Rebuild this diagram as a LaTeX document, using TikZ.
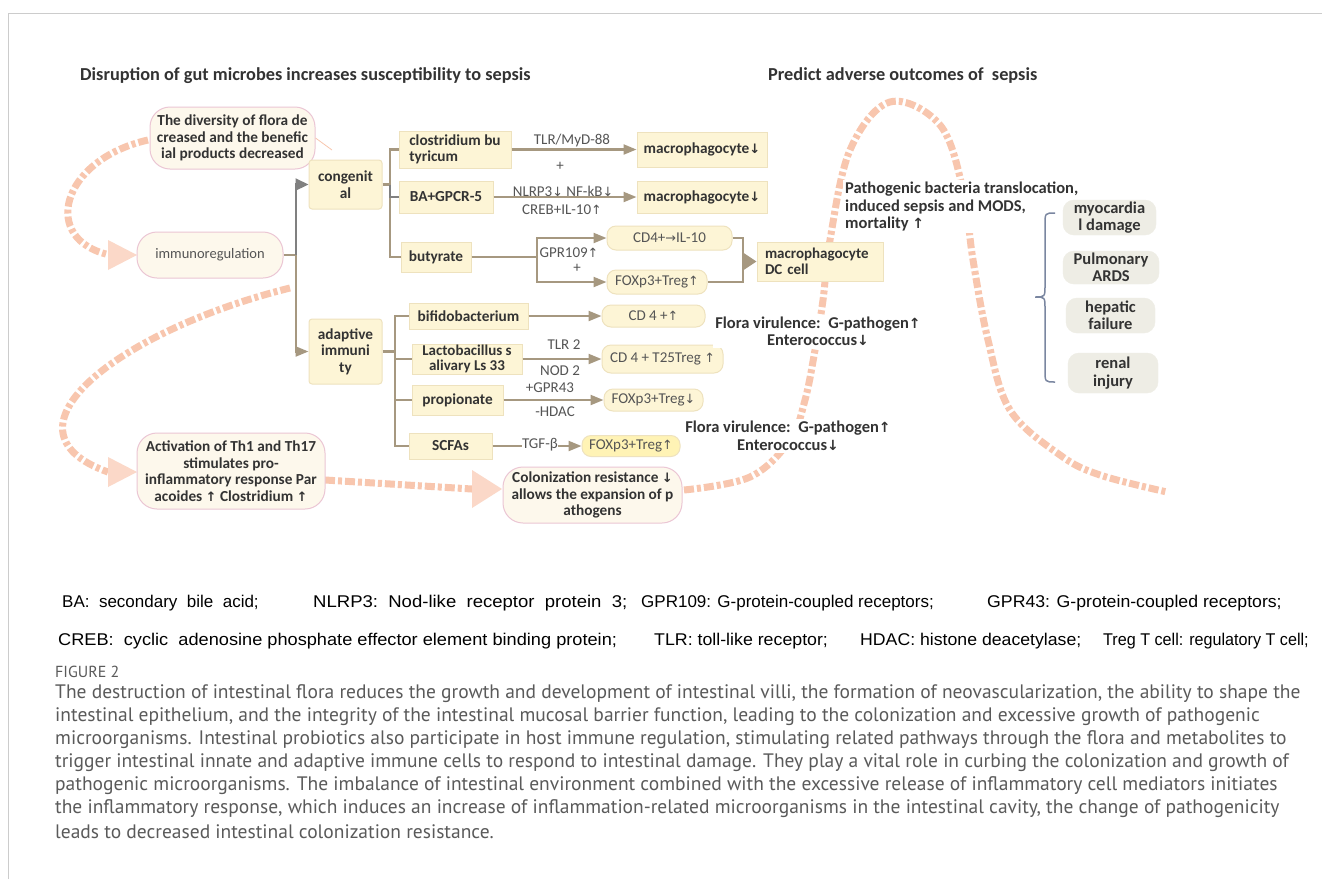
\documentclass[tikz,border=0pt]{standalone}
\usepackage{fontspec}
\usepackage{graphicx}
\setmainfont{Carlito}
\newfontfamily\symf[Scale=0.85]{DejaVu Sans}
\newfontfamily\legf{Liberation Sans}
\newfontfamily\capf{PT Sans}
\usetikzlibrary{arrows.meta,calc}
\newcommand{\arrU}{{\symf\char"2191}}
\newcommand{\arrD}{{\symf\char"2193}}
\newcommand{\arrR}{{\symf\char"2192}}
\definecolor{cream}{HTML}{FDF5D6}
\definecolor{creamedge}{HTML}{EEE2BE}
\definecolor{pale}{HTML}{FDF8EC}
\definecolor{pinkedge}{HTML}{EBC6D4}
\definecolor{tanc}{HTML}{A69880}
\definecolor{darkg}{HTML}{808080}
\definecolor{txt}{HTML}{333333}
\definecolor{lab}{HTML}{555555}
\definecolor{capc}{HTML}{5A5A5A}
\definecolor{salmon}{HTML}{F8C6AE}
\definecolor{salmonlt}{HTML}{FBD8C8}
\definecolor{graybox}{HTML}{EEEDE5}
\definecolor{yel}{HTML}{FFF3B5}
\definecolor{bracec}{HTML}{7A86A0}
\definecolor{framec}{HTML}{CCCCCC}
\begin{document}
\begin{tikzpicture}[x=1pt,y=-1pt,
  box/.style={draw=creamedge, fill=cream, line width=1pt, inner sep=0pt, text=txt,
    font=\bfseries\fontsize{15.3}{16.5}\selectfont, align=center},
  sbox/.style={box, rounded corners=3pt},
  rbox/.style={box, rounded corners=9pt, font=\fontsize{15}{16.5}\selectfont, text=lab},
  bigr/.style={draw=pinkedge, fill=pale, line width=1pt, rounded corners=20pt, inner sep=0pt,
    text=txt, font=\bfseries\fontsize{15.3}{16.5}\selectfont, align=center},
  gbox/.style={draw=graybox, fill=graybox, rounded corners=11pt, inner sep=0pt, text=txt,
    font=\bfseries\fontsize{16.5}{17.5}\selectfont, align=center},
  conn/.style={draw=tanc, line width=2.2pt},
  arr/.style={conn, -{Triangle[length=13pt,width=10pt]}},
  garr/.style={draw=darkg, line width=2.2pt, -{Triangle[length=13pt,width=12pt]}},
  lbl/.style={text=lab, font=\fontsize{15}{16.5}\selectfont, inner sep=1pt},
  dashc/.style={draw=salmon, line width=7pt, dash pattern=on 10pt off 3pt on 4pt off 3pt},
  bigtip/.style={fill=salmonlt},
  ttl/.style={text=txt, font=\bfseries\fontsize{18.3}{20}\selectfont, inner sep=0pt},
  bold16/.style={text=txt, font=\bfseries\fontsize{16.5}{17.5}\selectfont, inner sep=2pt},
  leg/.style={text=black, font=\legf\fontsize{17}{19}\selectfont, inner sep=0pt, anchor=west},
  capl/.style={text=capc, font=\capf\fontsize{19.5}{22}\selectfont, inner sep=0pt, anchor=west}
]
\useasboundingbox (0,0) rectangle (1322,879);
\fill[white] (0,0) rectangle (1322,879);
\draw[framec, line width=1pt] (8,879) -- (8,13) -- (1322,13);

% decorative dashed flows
\draw[dashc] (148,140) .. controls (60,160) and (40,240) .. (110,255);
\fill[bigtip] (108,240) -- (137,255) -- (108,270) -- cycle;
\draw[dashc] (290,288) .. controls (120,330) and (-10,430) .. (108,472);
\fill[bigtip] (108,457) -- (137,472) -- (108,487) -- cycle;
\draw[dashc] (325,480) -- (472,489);
\fill[bigtip] (472,470) -- (502,489) -- (472,508) -- cycle;
\draw[dashc] plot[smooth, tension=0.6] coordinates {(684,490) (750,477) (790,440) (805,400) (815,350) (823,300) (830,240) (850,150) (890,102) (940,125) (963,190) (973,260) (988,340) (1010,410) (1060,455) (1100,475) (1167,492)};

% titles
\node[ttl, anchor=west] (t1) at (80,76) {Disruption of gut microbes increases susceptibility to sepsis};
\node[ttl, anchor=west] (t2) at (768,76) {Predict adverse outcomes of\ \ sepsis};

% left nodes
\node[bigr, minimum width=165pt, minimum height=62pt] (div) at (232.5,138) {The diversity of flora de\\creased and the benefic\\ial products decreased};
\node[bigr, minimum width=146pt, minimum height=46pt, font=\fontsize{14.5}{16}\selectfont, text=lab] (imm) at (210,255) {immunoregulation};
\node[bigr, minimum width=188pt, minimum height=76pt] (act) at (231,471) {Activation of Th1 and Th17\\stimulates pro-\\inflammatory response Par\\acoides \arrU{} Clostridium \arrU};
\node[bigr, minimum width=179pt, minimum height=56pt] (colon) at (592.5,495) {Colonization resistance \arrD\\allows the expansion of p\\athogens};

\coordinate (fe) at (332,150);
\draw[salmon, line width=0.8pt] (div.east) -- (fe);

\node[sbox, minimum width=73pt, minimum height=49pt] (cong) at (345.5,184.5) {congenit\\al};
\node[sbox, minimum width=73pt, minimum height=65pt] (adap) at (345.5,351.5) {adaptive\\immuni\\ty};

% congenital branch
\node[box, minimum width=112pt, minimum height=37pt, align=left] (clos) at (455,149.5) {clostridium bu\\tyricum};
\node[box, minimum width=130pt, minimum height=35pt] (mac1) at (702,149.5) {macrophagocyte\arrD};
\node[box, minimum width=94pt, minimum height=32pt] (ba) at (446,197) {BA+GPCR-5};
\node[box, minimum width=130pt, minimum height=32pt] (mac2) at (702,197) {macrophagocyte\arrD};
\node[box, minimum width=70pt, minimum height=30pt] (buty) at (436,257) {butyrate};
\node[rbox, minimum width=125pt, minimum height=24pt] (cdil) at (669.5,238) {CD4+\arrR IL-10};
\node[rbox, minimum width=100pt, minimum height=24pt] (foxa) at (657,282) {FOXp3+Treg\arrU};
\node[box, text width=110pt, inner xsep=8pt, minimum height=39pt, align=left, font=\bfseries\fontsize{15}{15.5}\selectfont] (mdc) at (820,261.5) {macrophagocyte\\DC cell};

% adaptive branch
\node[box, minimum width=119pt, minimum height=26pt] (bifi) at (468.5,316) {bifidobacterium};
\node[rbox, minimum width=103pt, minimum height=22pt] (cd4) at (653.5,316) {CD 4 +\arrU};
\node[box, minimum width=110pt, minimum height=30pt, font=\bfseries\fontsize{15}{15}\selectfont] (lact) at (467,359) {Lactobacillus s\\alivary Ls 33};
\node[rbox, minimum width=121pt, minimum height=28pt] (cd4t) at (662.5,359) {CD 4 + T25Treg \arrU};
\node[box, minimum width=91pt, minimum height=30pt] (prop) at (457.5,400) {propionate};
\node[rbox, minimum width=99pt, minimum height=22pt] (foxb) at (653.5,400) {FOXp3+Treg\arrD};
\node[box, minimum width=83pt, minimum height=26pt] (scfa) at (450.5,446) {SCFAs};
\node[rbox, fill=yel, draw=creamedge, minimum width=98pt, minimum height=21pt] (foxc) at (631,446) {FOXp3+Treg\arrU};

% connectors
\coordinate (tr) at (296,255);
\draw[conn] (imm.east) -- (tr);
\draw[garr] (tr) |- (cong.west);
\draw[arr] (tr) |- (adap.west);
\coordinate (cb) at (390,184.5);
\draw[conn] (cong.east) -- (cb);
\draw[conn] (cb) |- (clos.west);
\draw[conn] (cb) |- (buty.west);
\draw[conn, draw=darkg] (cb) |- (ba.west);
\draw[arr] (clos.east) -- (mac1.west);
\draw[arr] (ba.east) -- (mac2.west);
\coordinate (bj) at (537,257);
\draw[conn] (buty.east) -- (bj);
\draw[arr] (bj) |- (cdil.west);
\draw[arr] (bj) |- (foxa.west);
\coordinate (mj) at (743,261.5);
\draw[conn] (cdil.east) -| (mj);
\draw[conn] (foxa.east) -| (mj);
\draw[conn, -{Triangle[length=14pt,width=18pt]}] (mj) -- (mdc.west);
\coordinate (ab) at (395,351.5);
\draw[conn] (adap.east) -- (ab);
\draw[conn] (ab) |- (bifi.west);
\draw[conn] (ab) |- (lact.west);
\draw[conn] (ab) |- (prop.west);
\draw[conn] (ab) |- (scfa.west);
\draw[arr] (bifi.east) -- (cd4.west);
\draw[arr] (lact.east) -- (cd4t.west);
\draw[arr] (prop.east) -- (foxb.west);
\draw[arr] (scfa.east) -- (foxc.west);

% labels
\node[lbl] (l1) at (572,140) {TLR/MyD-88};
\node[lbl] (l2) at (560,166) {+};
\node[lbl] (l3) at (563,191) {NLRP3\arrD{} NF-kB\arrD};
\node[lbl] (l4) at (562,210) {CREB+IL-10\arrU};
\node[lbl] (l5) at (569,253) {GPR109\arrU};
\node[lbl] (l6) at (577,268) {+};
\node[lbl] (l7) at (564,345) {TLR 2};
\node[lbl] (l8) at (560,371) {NOD 2};
\node[lbl] (l9) at (550,388) {+GPR43};
\node[lbl] (l10) at (555,412) {-HDAC};
\node[lbl, fill=white, inner xsep=0pt] (l11) at (540,445) {TGF-β};

% right side
\node[bold16, fill=white, align=left, anchor=west] (path) at (843,206.5) {Pathogenic bacteria translocation,\\induced sepsis and MODS,\\mortality \arrU};
\node[bold16, fill=white, align=center] (fl1) at (818,331.5) {Flora virulence:\ \ G-pathogen\arrU\\Enterococcus\arrD};
\node[bold16, fill=white, align=center] (fl2) at (788,436) {Flora virulence:\ \ G-pathogen\arrU\\Enterococcus\arrD};

\node[gbox, minimum width=93pt, minimum height=35pt] (myo) at (1109.5,217.5) {myocardia\\l damage};
\node[gbox, minimum width=96pt, minimum height=33pt] (pulm) at (1111,267.5) {Pulmonary\\ARDS};
\node[gbox, minimum width=89pt, minimum height=35pt] (hep) at (1110.5,315.5) {hepatic\\failure};
\node[gbox, minimum width=90pt, minimum height=40pt] (ren) at (1113,373) {renal\\injury};
\draw[bracec, line width=1.5pt] (1055,213) .. controls (1045,213) .. (1045,225) -- (1045,285) .. controls (1045,297) .. (1035,297) .. controls (1045,297) .. (1045,309) -- (1045,370) .. controls (1045,382) .. (1055,382);

% legend
\node[leg] (g1) at (62,603) {BA:\ \ secondary\ \ bile\ \ acid;};
\node[leg] (g2) at (313,603) {\scalebox{1.09}[1]{NLRP3:\ \ Nod-like\ \ receptor\ \ protein\ \ 3;}};
\node[leg] (g3) at (641,603) {GPR109: G-protein-coupled receptors;};
\node[leg] (g4) at (987,603) {\scalebox{1.04}[1]{GPR43: G-protein-coupled receptors;}};
\node[leg] (g5) at (58,641) {\scalebox{1.07}[1]{CREB:\ \ cyclic\ \ adenosine phosphate effector element binding protein;}};
\node[leg] (g6) at (654,641) {\scalebox{1.045}[1]{TLR: toll-like receptor;}};
\node[leg] (g7) at (860,641) {\scalebox{1.04}[1]{HDAC: histone deacetylase;}};
\node[leg] (g8) at (1103,641) {\scalebox{0.95}[1]{Treg T cell: regulatory T cell;}};

% caption
\node[capl, font=\capf\fontsize{16}{18}\selectfont] (fig) at (55,672) {FIGURE 2};
\node[capl] (c1) at (55,694) {The destruction of intestinal flora reduces the growth and development of intestinal villi, the formation of neovascularization, the ability to shape the};
\node[capl] (c2) at (55,717) {intestinal epithelium, and the integrity of the intestinal mucosal barrier function, leading to the colonization and excessive growth of pathogenic};
\node[capl] (c3) at (55,740) {microorganisms. Intestinal probiotics also participate in host immune regulation, stimulating related pathways through the flora and metabolites to};
\node[capl] (c4) at (55,763) {trigger intestinal innate and adaptive immune cells to respond to intestinal damage. They play a vital role in curbing the colonization and growth of};
\node[capl] (c5) at (55,786) {pathogenic microorganisms. The imbalance of intestinal environment combined with the excessive release of inflammatory cell mediators initiates};
\node[capl] (c6) at (55,809) {the inflammatory response, which induces an increase of inflammation-related microorganisms in the intestinal cavity, the change of pathogenicity};
\node[capl] (c7) at (55,832) {leads to decreased intestinal colonization resistance.};
\end{tikzpicture}
\end{document}
